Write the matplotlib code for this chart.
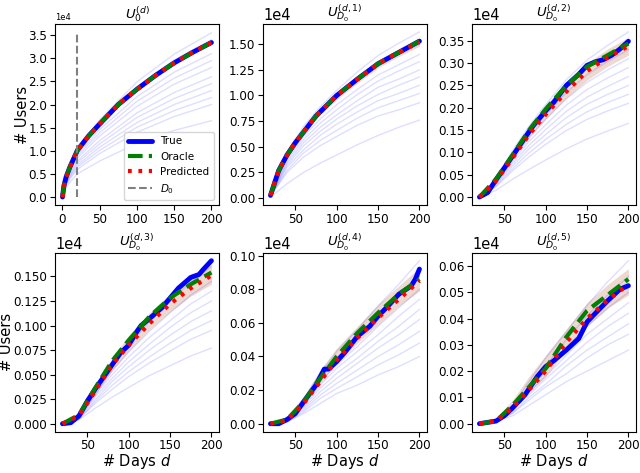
import numpy as np
import matplotlib.pyplot as plt
from matplotlib.ticker import MultipleLocator, FormatStrFormatter

# all user counts below are in units of 1e4

# ---- panel 1 : U_0^(d) ----
days_0 = [0, 2, 5, 10, 20, 35, 50, 75, 100, 125, 150, 175, 200]
true_0 = [0, 0.25, 0.44, 0.65, 1.01, 1.32, 1.58, 2.00, 2.33, 2.63, 2.90, 3.13, 3.34]
oracle_0 = [0, 0.25, 0.44, 0.65, 1.01, 1.32, 1.58, 2.00, 2.33, 2.63, 2.90, 3.13, 3.34]
pred_0 = [0, 0.25, 0.44, 0.65, 1.01, 1.32, 1.58, 2.00, 2.33, 2.63, 2.90, 3.13, 3.34]
fan_days_0 = [0, 5, 10, 20, 50, 100, 150, 200]
fan_0 = [
    [0, 0.46, 0.69, 1.07, 1.67, 2.49, 3.09, 3.55],
    [0, 0.44, 0.66, 1.02, 1.60, 2.38, 2.96, 3.40],
    [0, 0.40, 0.60, 0.93, 1.46, 2.17, 2.70, 3.10],
    [0, 0.38, 0.58, 0.89, 1.39, 2.07, 2.57, 2.95],
    [0, 0.36, 0.55, 0.84, 1.32, 1.96, 2.44, 2.80],
    [0, 0.34, 0.51, 0.78, 1.22, 1.82, 2.26, 2.60],
    [0, 0.32, 0.48, 0.74, 1.15, 1.72, 2.13, 2.45],
    [0, 0.30, 0.45, 0.69, 1.08, 1.61, 2.00, 2.30],
    [0, 0.28, 0.42, 0.65, 1.01, 1.51, 1.87, 2.15],
    [0, 0.26, 0.39, 0.60, 0.94, 1.40, 1.74, 2.00],
    [0, 0.21, 0.32, 0.50, 0.78, 1.16, 1.44, 1.65],
]
D0 = 20
d0_top = 3.57

# common grid of days for the sample curves / bands of panels 2-6
grid_days = [20, 40, 60, 80, 100, 125, 150, 175, 200]

# ---- panel 2 : U_D0^(d,1) ----
days_1 = [20, 25, 30, 40, 50, 75, 100, 125, 150, 175, 200]
true_1 = [0.026, 0.15, 0.27, 0.42, 0.54, 0.80, 1.00, 1.16, 1.31, 1.42, 1.53]
oracle_1 = [0.026, 0.15, 0.27, 0.42, 0.54, 0.80, 1.00, 1.16, 1.31, 1.42, 1.53]
pred_1 = [0.026, 0.15, 0.27, 0.42, 0.54, 0.80, 1.00, 1.16, 1.31, 1.42, 1.52]
fan_1 = [
    [0.03, 0.44, 0.70, 0.89, 1.05, 1.23, 1.39, 1.51, 1.62],
    [0.03, 0.41, 0.65, 0.83, 0.98, 1.14, 1.29, 1.40, 1.50],
    [0.03, 0.38, 0.60, 0.77, 0.91, 1.06, 1.20, 1.30, 1.40],
    [0.02, 0.36, 0.57, 0.73, 0.86, 1.01, 1.14, 1.24, 1.33],
    [0.02, 0.34, 0.54, 0.69, 0.81, 0.95, 1.08, 1.16, 1.25],
    [0.02, 0.32, 0.51, 0.65, 0.77, 0.90, 1.01, 1.10, 1.18],
    [0.02, 0.30, 0.47, 0.61, 0.72, 0.84, 0.95, 1.02, 1.10],
    [0.02, 0.27, 0.44, 0.56, 0.66, 0.78, 0.88, 0.95, 1.02],
    [0.02, 0.25, 0.40, 0.51, 0.60, 0.71, 0.80, 0.86, 0.93],
    [0.01, 0.14, 0.25, 0.34, 0.42, 0.52, 0.61, 0.69, 0.76],
]
band_lo_1 = [0.02, 0.40, 0.63, 0.81, 0.96, 1.12, 1.27, 1.38, 1.48]
band_hi_1 = [0.03, 0.43, 0.67, 0.86, 1.02, 1.18, 1.33, 1.45, 1.56]

# ---- panel 3 : U_D0^(d,2) ----
days_2 = [20, 30, 40, 50, 60, 75, 85, 100, 110, 125, 140, 150, 160, 170, 180, 190, 200]
true_2 = [0, 0.010, 0.039, 0.065, 0.092, 0.133, 0.160, 0.193, 0.213, 0.250, 0.275,
          0.295, 0.303, 0.308, 0.318, 0.332, 0.349]
oracle_2 = [0, 0.040, 0.094, 0.150, 0.197, 0.250, 0.292, 0.318, 0.344]
pred_2 = [0, 0.036, 0.087, 0.140, 0.185, 0.236, 0.282, 0.313, 0.338]
fan_2 = [
    [0, 0.041, 0.104, 0.159, 0.207, 0.263, 0.307, 0.340, 0.370],
    [0, 0.036, 0.092, 0.142, 0.185, 0.234, 0.274, 0.304, 0.330],
    [0, 0.034, 0.087, 0.133, 0.174, 0.220, 0.257, 0.285, 0.310],
    [0, 0.032, 0.081, 0.125, 0.162, 0.206, 0.241, 0.267, 0.290],
    [0, 0.030, 0.076, 0.116, 0.151, 0.192, 0.224, 0.248, 0.270],
    [0, 0.028, 0.070, 0.108, 0.140, 0.178, 0.208, 0.230, 0.250],
    [0, 0.025, 0.064, 0.099, 0.129, 0.163, 0.191, 0.212, 0.230],
    [0, 0.023, 0.059, 0.090, 0.118, 0.149, 0.174, 0.193, 0.210],
    [0, 0.015, 0.040, 0.062, 0.083, 0.108, 0.130, 0.148, 0.165],
]
band_lo_2 = [0, 0.030, 0.085, 0.135, 0.175, 0.222, 0.262, 0.293, 0.318]
band_hi_2 = [0, 0.045, 0.103, 0.158, 0.205, 0.257, 0.300, 0.332, 0.358]

# ---- panel 4 : U_D0^(d,3) ----
days_3 = [20, 30, 40, 50, 60, 75, 90, 100, 110, 115, 125, 140, 150, 160, 175, 185, 190, 200]
true_3 = [0, 0.001, 0.008, 0.023, 0.036, 0.054, 0.072, 0.080, 0.094, 0.100, 0.107,
          0.118, 0.128, 0.138, 0.149, 0.152, 0.157, 0.166]
oracle_3 = [0, 0.009, 0.037, 0.064, 0.085, 0.109, 0.128, 0.142, 0.154]
pred_3 = [0, 0.008, 0.034, 0.060, 0.080, 0.102, 0.122, 0.138, 0.151]
fan_3 = [
    [0, 0.008, 0.035, 0.059, 0.080, 0.104, 0.125, 0.144, 0.160],
    [0, 0.007, 0.032, 0.054, 0.073, 0.094, 0.113, 0.131, 0.145],
    [0, 0.007, 0.030, 0.050, 0.068, 0.088, 0.105, 0.122, 0.135],
    [0, 0.006, 0.028, 0.046, 0.063, 0.081, 0.098, 0.113, 0.125],
    [0, 0.006, 0.025, 0.043, 0.058, 0.075, 0.090, 0.104, 0.115],
    [0, 0.005, 0.023, 0.039, 0.053, 0.068, 0.082, 0.095, 0.105],
    [0, 0.005, 0.021, 0.035, 0.048, 0.062, 0.074, 0.086, 0.095],
    [0, 0.004, 0.016, 0.027, 0.037, 0.049, 0.059, 0.069, 0.077],
]
band_lo_3 = [0, 0.006, 0.030, 0.054, 0.074, 0.096, 0.114, 0.130, 0.142]
band_hi_3 = [0, 0.012, 0.040, 0.067, 0.090, 0.113, 0.132, 0.148, 0.162]

# ---- panel 5 : U_D0^(d,4) ----
days_4 = [20, 30, 40, 50, 60, 75, 85, 90, 100, 110, 125, 140, 150, 160, 175, 190, 195, 200]
true_4 = [0, 0, 0.0025, 0.006, 0.013, 0.023, 0.0325, 0.0325, 0.037, 0.0425, 0.052,
          0.058, 0.064, 0.069, 0.077, 0.082, 0.086, 0.092]
oracle_4 = [0, 0.0025, 0.013, 0.027, 0.040, 0.054, 0.066, 0.077, 0.086]
pred_4 = [0, 0.002, 0.012, 0.025, 0.038, 0.051, 0.063, 0.074, 0.085]
fan_4 = [
    [0, 0.003, 0.015, 0.030, 0.043, 0.056, 0.070, 0.083, 0.097],
    [0, 0.003, 0.013, 0.027, 0.039, 0.051, 0.063, 0.076, 0.088],
    [0, 0.002, 0.012, 0.025, 0.035, 0.046, 0.058, 0.069, 0.080],
    [0, 0.002, 0.011, 0.023, 0.033, 0.043, 0.053, 0.064, 0.074],
    [0, 0.002, 0.010, 0.021, 0.030, 0.039, 0.049, 0.058, 0.068],
    [0, 0.002, 0.009, 0.019, 0.027, 0.036, 0.045, 0.053, 0.062],
    [0, 0.002, 0.008, 0.017, 0.024, 0.032, 0.040, 0.047, 0.055],
    [0, 0.001, 0.007, 0.015, 0.021, 0.028, 0.035, 0.041, 0.048],
    [0, 0.001, 0.006, 0.012, 0.018, 0.023, 0.029, 0.034, 0.040],
]
band_lo_4 = [0, 0.002, 0.011, 0.024, 0.036, 0.048, 0.059, 0.070, 0.079]
band_hi_4 = [0, 0.004, 0.016, 0.032, 0.045, 0.058, 0.071, 0.082, 0.093]

# ---- panel 6 : U_D0^(d,5) ----
days_5 = [20, 40, 50, 60, 75, 90, 100, 110, 125, 140, 150, 160, 175, 190, 200]
true_5 = [0, 0.001, 0.003, 0.006, 0.011, 0.018, 0.0217, 0.024, 0.028, 0.0324,
          0.0387, 0.042, 0.0468, 0.0512, 0.0525]
oracle_5 = [0, 0.001, 0.007, 0.014, 0.021, 0.033, 0.043, 0.049, 0.055]
pred_5 = [0, 0.001, 0.006, 0.013, 0.020, 0.031, 0.040, 0.047, 0.053]
fan_5 = [
    [0, 0.001, 0.007, 0.016, 0.025, 0.035, 0.045, 0.054, 0.062],
    [0, 0.001, 0.006, 0.014, 0.022, 0.032, 0.041, 0.049, 0.056],
    [0, 0.001, 0.006, 0.013, 0.020, 0.029, 0.037, 0.044, 0.050],
    [0, 0.001, 0.005, 0.012, 0.018, 0.026, 0.034, 0.040, 0.046],
    [0, 0.001, 0.005, 0.011, 0.017, 0.024, 0.031, 0.037, 0.042],
    [0, 0.001, 0.004, 0.010, 0.015, 0.022, 0.028, 0.033, 0.038],
    [0, 0.001, 0.004, 0.009, 0.014, 0.019, 0.025, 0.030, 0.034],
    [0, 0.001, 0.003, 0.007, 0.011, 0.016, 0.020, 0.024, 0.028],
]
band_lo_5 = [0, 0.001, 0.005, 0.012, 0.018, 0.028, 0.037, 0.044, 0.049]
band_hi_5 = [0, 0.002, 0.009, 0.018, 0.026, 0.036, 0.046, 0.053, 0.059]

titles = [r"$U_0^{(d)}$", r"$U_{D_0}^{(d,1)}$", r"$U_{D_0}^{(d,2)}$",
          r"$U_{D_0}^{(d,3)}$", r"$U_{D_0}^{(d,4)}$", r"$U_{D_0}^{(d,5)}$"]


fig = plt.figure(figsize=(6.4, 4.73), dpi=100)

# axes boxes (left, bottom, width, height)
lefts = [0.086, 0.411, 0.7375]
bottoms = [0.566, 0.087]
w = 0.256
heights = [0.384, 0.379]
axes = []
for r in range(2):
    for c in range(3):
        axes.append(fig.add_axes([lefts[c], bottoms[r], w, heights[r]]))


def draw_main(ax, dt, yt, do, yo, dp, yp):
    ax.plot(dt, yt, color='blue', lw=3.5, solid_capstyle='round', label='True')
    ax.plot(do, yo, color='green', lw=3, ls=(0, (3.5, 1.5)), label='Oracle')
    ax.plot(dp, yp, color='red', lw=3, ls=(0, (0.9, 1.6)), dash_capstyle='butt',
            label='Predicted')

# panel 1
ax = axes[0]
for s in fan_0:
    ax.plot(fan_days_0, s, color='blue', alpha=0.13, lw=1)
draw_main(ax, days_0, true_0, days_0, oracle_0, days_0, pred_0)
ax.vlines(D0, 0, d0_top, colors='gray', linestyles='--', lw=1.5, label='$D_0$')
ax.legend(loc='lower right', fontsize=7.5, handlelength=2.3)
ax.text(0, 1.01, '1e4', transform=ax.transAxes, fontsize=6, va='bottom')

# panels 2-6
panels = [
    (days_1, true_1, days_1, oracle_1, days_1, pred_1, fan_1, band_lo_1, band_hi_1),
    (days_2, true_2, grid_days, oracle_2, grid_days, pred_2, fan_2, band_lo_2, band_hi_2),
    (days_3, true_3, grid_days, oracle_3, grid_days, pred_3, fan_3, band_lo_3, band_hi_3),
    (days_4, true_4, grid_days, oracle_4, grid_days, pred_4, fan_4, band_lo_4, band_hi_4),
    (days_5, true_5, grid_days, oracle_5, grid_days, pred_5, fan_5, band_lo_5, band_hi_5),
]
for ax, p in zip(axes[1:], panels):
    dt, yt, do, yo, dp, yp, fan, lo, hi = p
    for s in fan:
        ax.plot(grid_days, s, color='blue', alpha=0.13, lw=1)
    ax.fill_between(grid_days, lo, hi, color='red', alpha=0.12, lw=0)
    ax.fill_between(grid_days, lo, hi, color='green', alpha=0.07, lw=0)
    draw_main(ax, dt, yt, do, yo, dp, yp)
    ax.text(0, 1.005, '1e4', transform=ax.transAxes, fontsize=10.5, va='bottom')

# ticks
steps = [0.5, 0.25, 0.05, 0.025, 0.02, 0.01]
fmts = ['%.1f', '%.2f', '%.2f', '%.3f', '%.2f', '%.2f']
for i, ax in enumerate(axes):
    ax.yaxis.set_major_locator(MultipleLocator(steps[i]))
    ax.yaxis.set_major_formatter(FormatStrFormatter(fmts[i]))
    if i == 0:
        ax.set_xticks([0, 50, 100, 150, 200])
    else:
        ax.set_xticks([50, 100, 150, 200])
    ax.tick_params(labelsize=8.6, pad=2)
    ax.set_title(titles[i], fontsize=9.5, pad=0.5)

axes[0].set_ylabel('# Users', fontsize=10.5)
axes[0].yaxis.set_label_coords(-0.155, 0.5)
axes[3].set_ylabel('# Users', fontsize=10.5)
axes[3].yaxis.set_label_coords(-0.252, 0.5)
for ax in axes[3:]:
    ax.set_xlabel('# Days $d$', fontsize=10.5, labelpad=0)

plt.savefig('out.png', dpi=100)
